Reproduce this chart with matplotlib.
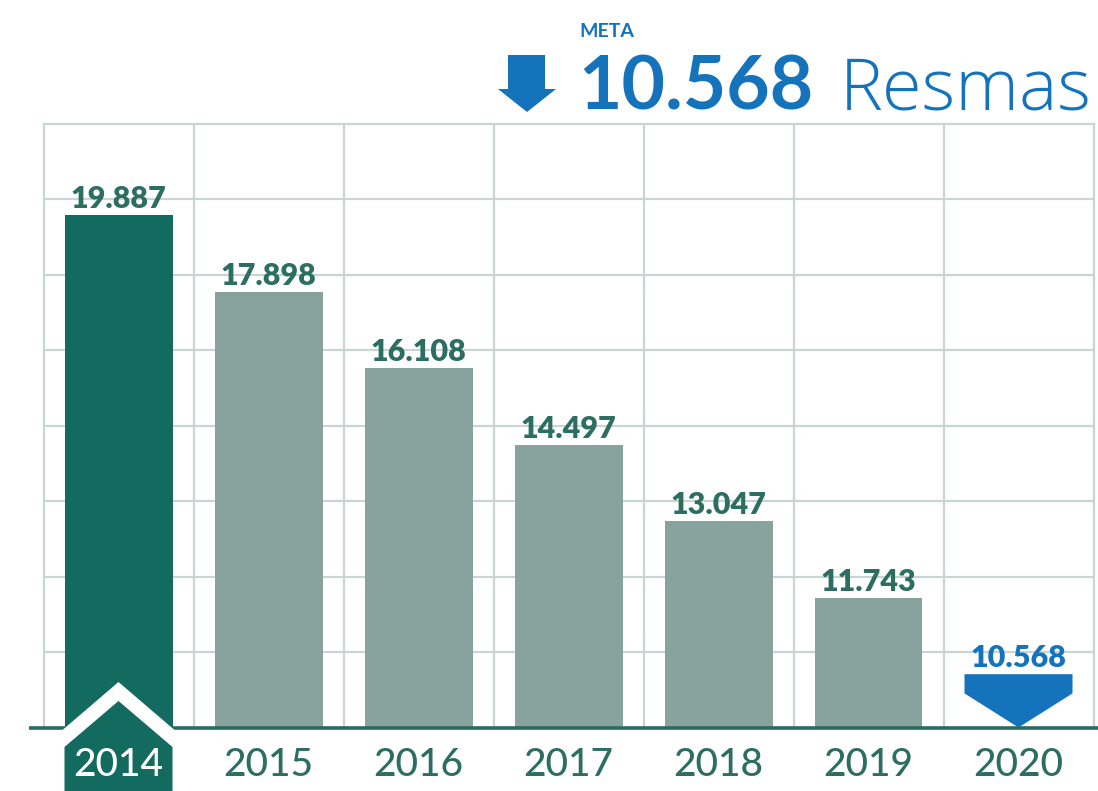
import numpy as np
import matplotlib
matplotlib.use("Agg")
import matplotlib.pyplot as plt
from matplotlib.patches import Polygon
from matplotlib.transforms import IdentityTransform, blended_transform_factory

years = ['2014', '2015', '2016', '2017', '2018', '2019', '2020']
resmas = [19887, 17898, 16108, 14497, 13047, 11743, 10568]
meta_label = 'META'
unit_label = 'Resmas'

DARK = '#136a5f'
GREY = '#88a29e'
TEAL_TXT = '#2d6e62'
BLUE = '#1473bb'
GRID = '#c9d5d2'

plt.rcParams['font.family'] = ['Lato', 'DejaVu Sans']

def fmt(v):
    return f"{v:,}".replace(',', '.')

W, H = 1098, 791
fig = plt.figure(figsize=(W / 100, H / 100), dpi=100)
ax = fig.add_axes([43.5 / W, (H - 727.5) / H, 1050 / W, 604 / H])

ybot, ytop = 9820, 22560
ax.set_yscale('log')
ax.set_ylim(ybot, ytop)
ax.set_xlim(-0.5, len(years) - 0.5)

# grid
ax.set_yticks(np.geomspace(ybot, ytop, 9)[1:-1])
ax.yaxis.set_minor_locator(matplotlib.ticker.NullLocator())
ax.set_xticks(np.arange(len(years) - 1) + 0.5)
ax.grid(True, color=GRID, linewidth=1.6)
ax.set_axisbelow(True)
ax.tick_params(length=0, labelbottom=False, labelleft=False)
for s in ['left', 'right', 'top']:
    ax.spines[s].set_color(GRID)
    ax.spines[s].set_linewidth(1.6)
ax.spines['bottom'].set_visible(False)

x = np.arange(len(years))
bw = 0.72
colors = [DARK] + [GREY] * (len(years) - 2)
heights = [v - ybot for v in resmas[:-1]]
ax.bar(x[:-1], heights, width=bw, color=colors, bottom=ybot, zorder=2)

# last year: chevron down
tv = resmas[-1]
lt, lb = np.log(tv), np.log(ybot)
shoulder = np.exp(lt + 0.36 * (lb - lt))
ax.add_patch(Polygon([(x[-1] - bw / 2, tv), (x[-1] + bw / 2, tv),
                      (x[-1] + bw / 2, shoulder), (x[-1], ybot),
                      (x[-1] - bw / 2, shoulder)],
                     closed=True, color=BLUE, zorder=2, linewidth=0))

# baseline
ax.plot([-0.0138, 1.0043], [0, 0], transform=ax.transAxes, color='#2b6b5f',
        linewidth=2.6, clip_on=False, zorder=3, solid_capstyle='butt')

# value labels
for i, v in enumerate(resmas):
    ax.annotate(fmt(v), (x[i], v), xytext=(0, 5), textcoords='offset points',
                ha='center', va='baseline', fontsize=22, fontweight='heavy',
                color=BLUE if i == len(resmas) - 1 else TEAL_TXT, zorder=4)

# house-shaped tag under first bar
fig.canvas.draw()
cx, yb = ax.transData.transform((x[0], ybot))
hw = ax.transData.transform((x[0] + bw / 2, ybot))[0] - cx
outer = [(cx - hw - 2, yb - 2.5), (cx, yb + 45.5), (cx + hw + 2, yb - 2.5),
         (cx + hw + 2, -5), (cx - hw - 2, -5)]
inner = [(cx - hw, yb - 19.5), (cx, yb + 26.5), (cx + hw, yb - 19.5),
         (cx + hw, -5), (cx - hw, -5)]
fig.add_artist(Polygon(outer, closed=True, facecolor='white', edgecolor='none',
                       transform=IdentityTransform(), zorder=5))
fig.add_artist(Polygon(inner, closed=True, facecolor=DARK, edgecolor='none',
                       transform=IdentityTransform(), zorder=6))

# year labels
tr = blended_transform_factory(ax.transData, ax.transAxes)
for i, yr in enumerate(years):
    if i == 0:
        fig.text(cx / W, (yb - 48.5) / H, yr, ha='center', va='baseline',
                 fontsize=28, fontweight='medium', color='white', zorder=7)
        continue
    ax.annotate(yr, (x[i], 0), xycoords=tr, xytext=(0, -35), textcoords='offset points',
                ha='center', va='baseline', fontsize=28, fontweight='medium',
                color=TEAL_TXT, annotation_clip=False)

# header
arrow = [(508, 55), (545, 55), (545, 89), (556, 89), (527, 112), (498, 89), (508, 89)]
fig.add_artist(Polygon([(px, H - py) for px, py in arrow], closed=True,
                       facecolor=BLUE, edgecolor='none', transform=IdentityTransform()))
fig.text(579 / W, 1 - 37 / H, meta_label, fontsize=14, fontweight='bold', color=BLUE,
         ha='left', va='baseline')
fig.text(578 / W, 1 - 109 / H, fmt(resmas[-1]), fontsize=54, fontweight='bold',
         color=BLUE, ha='left', va='baseline')
fig.text(840 / W, 1 - 109 / H, unit_label, fontsize=52, fontweight=300,
         color=BLUE, ha='left', va='baseline', family=['Open Sans', 'Lato'])

fig.savefig('out.png', dpi=100)
